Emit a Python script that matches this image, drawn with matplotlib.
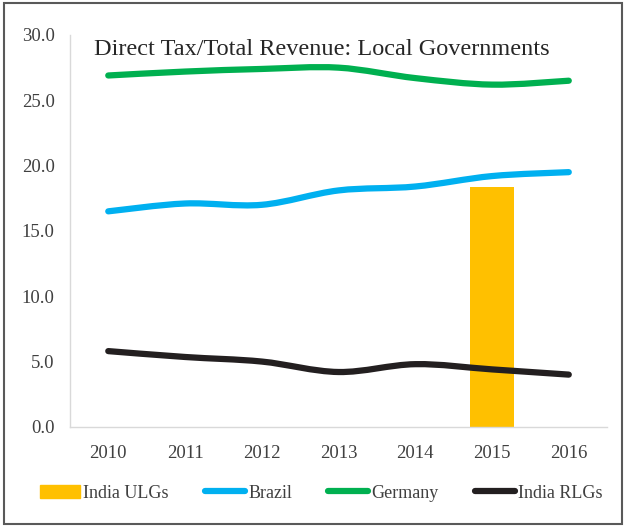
import numpy as np
import matplotlib
matplotlib.use('Agg')
import matplotlib.pyplot as plt
from matplotlib.path import Path
from matplotlib.patches import PathPatch, Rectangle, Patch
from matplotlib.lines import Line2D

years = ['2010', '2011', '2012', '2013', '2014', '2015', '2016']
germany = [26.9, 27.2, 27.4, 27.5, 26.7, 26.2, 26.5]
brazil = [16.5, 17.1, 17.0, 18.1, 18.4, 19.2, 19.5]
india_rlgs = [5.8, 5.35, 5.0, 4.2, 4.8, 4.4, 4.0]
ulg_year = 5          # index of 2015
india_ulgs = 18.4

plt.rcParams['font.family'] = 'Liberation Serif'
text_col = '#404040'

fig = plt.figure(figsize=(6.24, 5.27), dpi=100)
ax = fig.add_axes([0.112, 0.19, 0.861, 0.7436])


def smooth_line(ax, xs, ys, color, lw=4.5):
    # Excel-style smoothed line: cubic bezier segments through the points
    xs = np.asarray(xs, float)
    ys = np.asarray(ys, float)
    n = len(xs)
    verts = [(xs[0], ys[0])]
    codes = [Path.MOVETO]
    t = 1.0 / 6.0
    for i in range(n - 1):
        p0 = np.array([xs[max(i - 1, 0)], ys[max(i - 1, 0)]])
        p1 = np.array([xs[i], ys[i]])
        p2 = np.array([xs[i + 1], ys[i + 1]])
        p3 = np.array([xs[min(i + 2, n - 1)], ys[min(i + 2, n - 1)]])
        c1 = p1 + (p2 - p0) * t
        c2 = p2 - (p3 - p1) * t
        verts += [tuple(c1), tuple(c2), tuple(p2)]
        codes += [Path.CURVE4] * 3
    ax.add_patch(PathPatch(Path(verts, codes), facecolor='none', edgecolor=color,
                           lw=lw, capstyle='round', joinstyle='round', zorder=3))


x = np.arange(len(years))
ax.bar(x[ulg_year], india_ulgs, width=0.57, color='#FFC000', zorder=2)
smooth_line(ax, x, brazil, '#00B0F0')
smooth_line(ax, x, germany, '#00B050')
smooth_line(ax, x, india_rlgs, '#231F20')

ax.set_xlim(-0.5, len(years) - 0.5)
ax.set_ylim(0, 30)
ax.set_yticks(np.arange(0, 31, 5))
ax.set_yticklabels(['%.1f' % v for v in np.arange(0, 31, 5)])
ax.set_xticks(x)
ax.set_xticklabels(years)
ax.tick_params(length=0, labelsize=13.5, colors=text_col)
ax.tick_params(axis='x', pad=13)
ax.tick_params(axis='y', pad=11)
for s in ['top', 'right']:
    ax.spines[s].set_visible(False)
for s in ['left', 'bottom']:
    ax.spines[s].set_color('#D9D9D9')
    ax.spines[s].set_linewidth(1.0)

ax.text(0.045, 0.99, 'Direct Tax/Total Revenue: Local Governments', transform=ax.transAxes,
        fontsize=17.5, color='#262626', va='top', ha='left')

handles = [Patch(color='#FFC000'),
           Line2D([], [], color='#00B0F0', lw=4.5, solid_capstyle='round'),
           Line2D([], [], color='#00B050', lw=4.5, solid_capstyle='round'),
           Line2D([], [], color='#231F20', lw=4.5, solid_capstyle='round')]
labels = ['India ULGs', 'Brazil', 'Germany', 'India RLGs']
fig.legend(handles, labels, loc='center', bbox_to_anchor=(0.515, 0.064), ncol=4,
           frameon=False, fontsize=13, handlelength=2.2, handletextpad=0.2,
           columnspacing=2.0, labelcolor=text_col)

fig.patches.append(Rectangle((0.006, 0.005), 0.99, 0.99, transform=fig.transFigure,
                             fill=False, edgecolor='#595959', lw=1.5))

fig.savefig('out.png', dpi=100)
